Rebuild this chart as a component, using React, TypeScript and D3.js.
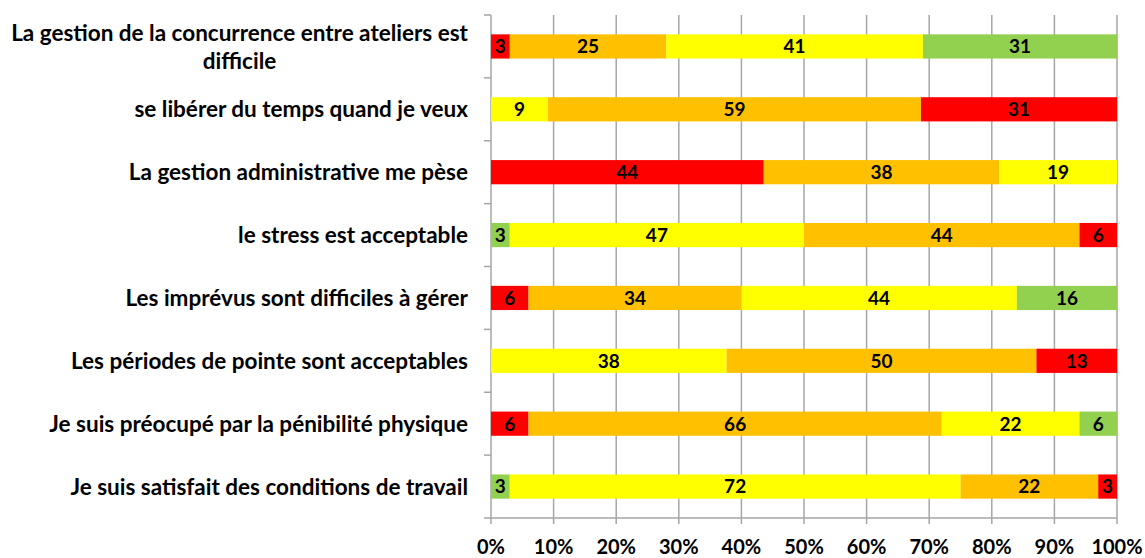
import React, { useLayoutEffect, useRef, useState } from "react";
import * as d3 from "d3";

const categories: string[][] = [
  ["La gestion de la concurrence entre ateliers est", "difficile"],
  ["se libérer du temps quand je veux"],
  ["La gestion administrative me pèse"],
  ["le stress est acceptable"],
  ["Les imprévus sont difficiles à gérer"],
  ["Les périodes de pointe sont acceptables"],
  ["Je suis préocupé par la pénibilité physique"],
  ["Je suis satisfait des conditions de travail"],
];

const segmentValues: number[][] = [
  [3, 25, 41, 31],
  [9, 59, 31],
  [44, 38, 19],
  [3, 47, 44, 6],
  [6, 34, 44, 16],
  [38, 50, 13],
  [6, 66, 22, 6],
  [3, 72, 22, 3],
];

const segmentKinds: string[][] = [
  ["red", "orange", "yellow", "green"],
  ["yellow", "orange", "red"],
  ["red", "orange", "yellow"],
  ["green", "yellow", "orange", "red"],
  ["red", "orange", "yellow", "green"],
  ["yellow", "orange", "red"],
  ["red", "orange", "yellow", "green"],
  ["green", "yellow", "orange", "red"],
];

const xTicks: number[] = [0, 0.1, 0.2, 0.3, 0.4, 0.5, 0.6, 0.7, 0.8, 0.9, 1];

const palette: Record<string, string> = {
  red: "#FF0000",
  orange: "#FFC000",
  yellow: "#FFFF00",
  green: "#92D050",
};

const W = 1145;
const H = 558;
const left = 491;
const right = 1117;
const top = 15;
const bottom = 518;
const FONT = "Lato, 'Open Sans', sans-serif";
const grid = "#A6A6A6";
const catSize = 22.5;
const valSize = 19;
const tickSize = 20;

export default function App() {
  const x = d3.scaleLinear().domain([0, 1]).range([left, right]);
  const y = d3
    .scaleBand<number>()
    .domain(d3.range(categories.length))
    .range([top, bottom])
    .paddingInner(0.615)
    .paddingOuter(0.3075);
  const bandStep = (bottom - top) / categories.length;

  const firstRef = useRef<SVGTextElement>(null);
  const [firstW, setFirstW] = useState(456);
  useLayoutEffect(() => {
    if (firstRef.current) setFirstW(firstRef.current.getComputedTextLength());
  }, []);

  const labelRight = 468;

  return (
    <svg width={W} height={H} style={{ position: "absolute", left: 0, top: 0 }}>
      <rect x={0} y={0} width={W} height={H} fill="#fff" />
      {/* gridlines */}
      {xTicks.slice(1).map((t) => (
        <line key={t} x1={x(t)} x2={x(t)} y1={top} y2={bottom + 6} stroke={grid} strokeWidth={1.5} />
      ))}
      {/* left axis */}
      <line x1={left} x2={left} y1={top} y2={bottom + 6} stroke={grid} strokeWidth={1.5} />
      {d3.range(categories.length + 1).map((i) => (
        <line key={i} x1={left - 7} x2={left} y1={top + i * bandStep} y2={top + i * bandStep} stroke={grid} strokeWidth={1.5} />
      ))}
      {/* bottom axis */}
      <line x1={left} x2={right} y1={bottom} y2={bottom} stroke={grid} strokeWidth={1.5} />
      {/* bars */}
      {segmentValues.map((vals, i) => {
        const total = d3.sum(vals);
        let acc = 0;
        return (
          <g key={i}>
            {vals.map((v, j) => {
              const x0 = x(acc / total);
              acc += v;
              const x1 = x(acc / total);
              const yy = y(i)!;
              return (
                <g key={j}>
                  <rect x={x0} y={yy} width={x1 - x0} height={y.bandwidth()} fill={palette[segmentKinds[i][j]]} />
                  <text
                    x={(x0 + x1) / 2}
                    y={yy + y.bandwidth() / 2}
                    dy="0.36em"
                    textAnchor="middle"
                    fontFamily={FONT}
                    fontWeight="bold"
                    fontSize={valSize}
                    fill="#000"
                  >
                    {v}
                  </text>
                </g>
              );
            })}
          </g>
        );
      })}
      {/* category labels */}
      {categories.map((lines, i) => {
        const cy = y(i)! + y.bandwidth() / 2;
        if (lines.length === 1) {
          return (
            <text key={i} x={labelRight} y={cy} dy="0.36em" textAnchor="end" fontFamily={FONT} fontWeight="bold" fontSize={catSize} fill="#000">
              {lines[0]}
            </text>
          );
        }
        return (
          <g key={i}>
            <text ref={firstRef} x={labelRight} y={cy - 14} dy="0.36em" textAnchor="end" fontFamily={FONT} fontWeight="bold" fontSize={catSize} fill="#000">
              {lines[0]}
            </text>
            <text x={labelRight - firstW / 2} y={cy + 14} dy="0.36em" textAnchor="middle" fontFamily={FONT} fontWeight="bold" fontSize={catSize} fill="#000">
              {lines[1]}
            </text>
          </g>
        );
      })}
      {/* x tick labels */}
      {xTicks.map((t) => (
        <text key={t} x={x(t)} y={554} textAnchor="middle" fontFamily={FONT} fontWeight="bold" fontSize={tickSize} fill="#000">
          {d3.format(".0%")(t)}
        </text>
      ))}
    </svg>
  );
}
